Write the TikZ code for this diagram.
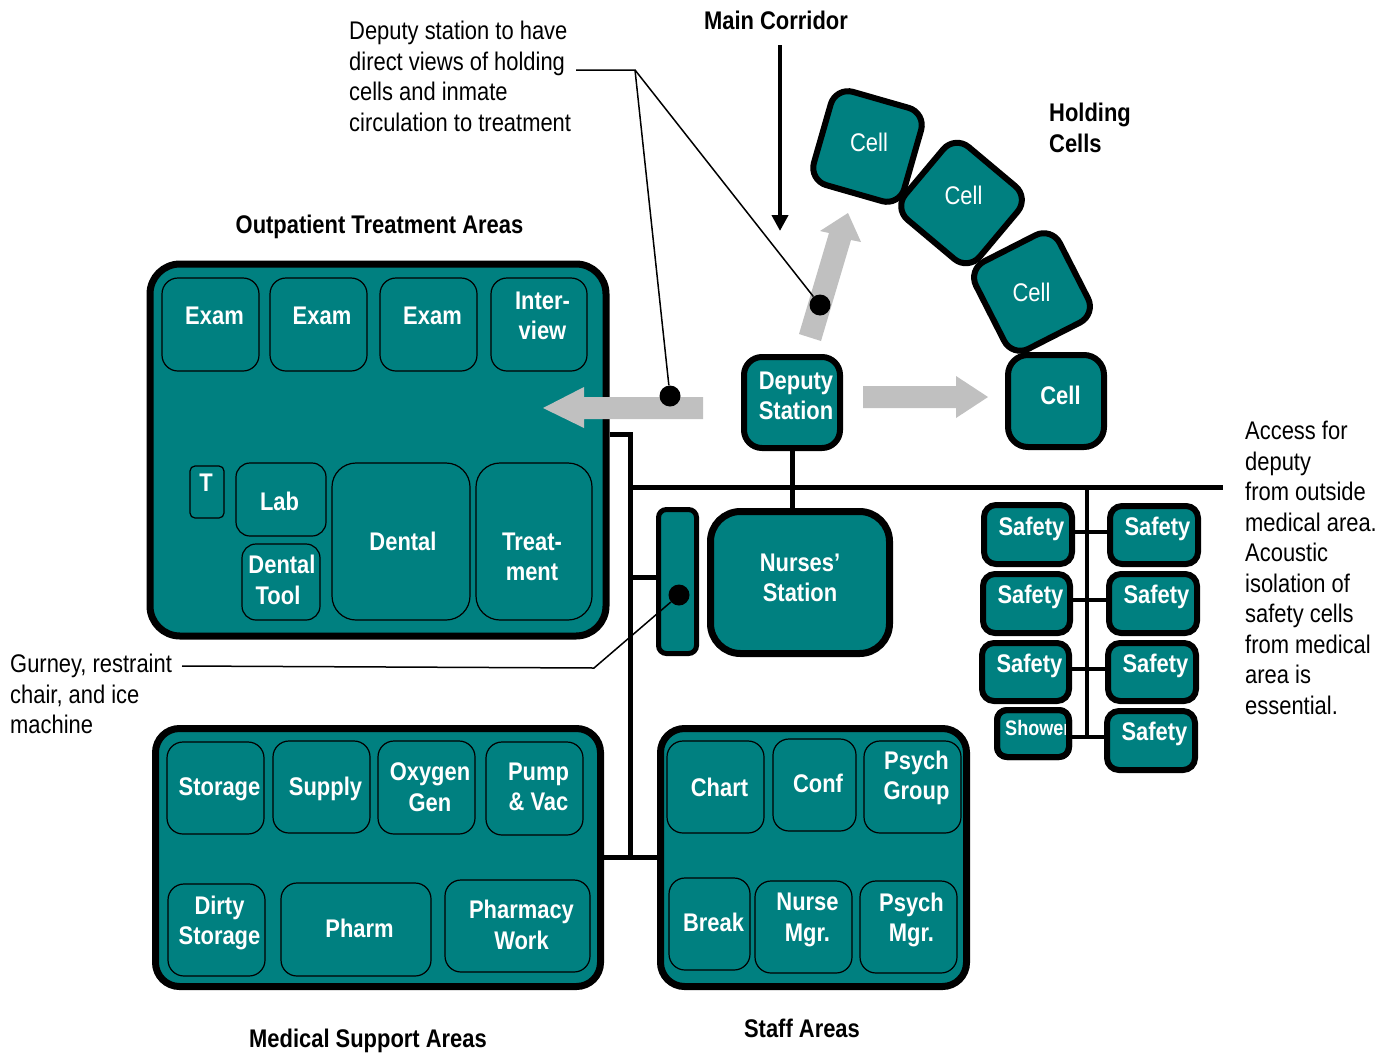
\documentclass[tikz,border=0pt]{standalone}
\usepackage{fontspec}
\setmainfont{Liberation Sans}[FakeStretch=0.86]
\usetikzlibrary{arrows.meta}
\definecolor{tealroom}{HTML}{008080}
\definecolor{grayarrow}{HTML}{C0C0C0}
\tikzset{
  sz/.style={font={\fontsize{25.5}{30.5}\selectfont}},
  szb/.style={font={\bfseries\fontsize{25.5}{30.5}\selectfont}},
  room/.style={draw=black,fill=tealroom,line width=1.2pt,inner sep=0pt},
  block/.style={draw=black,fill=tealroom,inner sep=0pt},
  roomtext/.style={szb,text=white,align=center,inner sep=0pt},
  celltext/.style={sz,text=white,align=center,inner sep=0pt},
  anno/.style={sz,text=black,align=left,inner sep=0pt},
  title/.style={szb,text=black,align=center,inner sep=0pt},
  heavy/.style={draw=black,line width=5pt},
  leader/.style={draw=black,line width=1.5pt},
  dot/.style={circle,fill=black,inner sep=0pt,minimum size=21pt},
  grayhead/.style={fill=grayarrow,draw=none},
}
% style, name, x0,y0,x1,y1, radius
\newcommand\mkbox[7]{\node[#1,rounded corners=#7pt,minimum width={(#5)-(#3)},minimum height={(#6)-(#4)}] (#2) at ({((#3)+(#5))/2},{((#4)+(#6))/2}) {};}
\begin{document}
\begin{tikzpicture}[x=1pt,y=-1pt]
\useasboundingbox (0,0) rectangle (1391,1052);
\fill[white] (0,0) rectangle (1391,1052);

% ---- large blocks
\mkbox{block,line width=7pt}{out}{150}{264}{606}{636}{30}
\mkbox{block,line width=7pt}{med}{155.5}{728.5}{600.5}{986.5}{24}
\mkbox{block,line width=7pt}{staff}{660.5}{728.5}{966.5}{986.5}{24}
\mkbox{block,line width=6pt}{deputy}{744}{357}{840}{448}{18}
\mkbox{block,line width=7pt}{nurses}{710.5}{511.5}{889.5}{653.5}{30}
\mkbox{block,line width=5pt}{gurney}{658.5}{509.5}{696.5}{653.5}{8}

% ---- rooms
\mkbox{room}{ex1}{162}{278}{259}{371}{16}
\mkbox{room}{ex2}{270}{278}{367}{371}{16}
\mkbox{room}{ex3}{380}{278}{477}{371}{16}
\mkbox{room}{inter}{491}{278}{587}{371}{16}
\mkbox{room}{troom}{190}{466}{224}{518}{5}
\mkbox{room}{lab}{236}{463}{326}{536}{14}
\mkbox{room}{tool}{242}{544}{320}{620}{14}
\mkbox{room}{dental}{332}{463}{470}{620}{24}
\mkbox{room}{treat}{476}{463}{592}{620}{24}
\mkbox{room}{stor}{167}{742}{264}{834}{16}
\mkbox{room}{supp}{273}{741}{370}{833}{16}
\mkbox{room}{oxy}{378}{741}{475}{834}{16}
\mkbox{room}{pump}{486}{742}{583}{835}{16}
\mkbox{room}{dirty}{168}{884}{265}{976}{16}
\mkbox{room}{pharm}{281}{883}{431}{976}{16}
\mkbox{room}{pwork}{445}{880}{590}{972}{16}
\mkbox{room}{chart}{667}{741}{764}{833}{16}
\mkbox{room}{conf}{773}{739}{856}{831}{16}
\mkbox{room}{pgroup}{864}{741}{961}{833}{16}
\mkbox{room}{break}{669}{878}{750}{970}{16}
\mkbox{room}{nmgr}{755}{881}{852}{973}{16}
\mkbox{room}{pmgr}{860}{881}{957}{973}{16}

% ---- cells
\tikzset{cellbox/.style={draw=black,fill=tealroom,line width=6pt,rounded corners=18pt,inner sep=0pt}}
\node[cellbox,rotate=-16,minimum width=94pt,minimum height=97pt] (c1) at (867.5,146.5) {};
\node[cellbox,rotate=-40,minimum width=97pt,minimum height=95pt] (c2) at (961.5,203) {};
\node[cellbox,rotate=27,minimum width=94pt,minimum height=98pt] (c3) at (1032,292) {};
\mkbox{block,line width=6pt}{c4}{1008}{355}{1104}{447}{20}

% ---- safety
\mkbox{block,line width=6pt}{sl1}{984}{505}{1072}{564}{12}
\mkbox{block,line width=6pt}{sr1}{1110}{506}{1198}{564}{12}
\mkbox{block,line width=6pt}{sl2}{983}{574}{1070}{633}{12}
\mkbox{block,line width=6pt}{sr2}{1109}{574}{1197}{633}{12}
\mkbox{block,line width=6pt}{sl3}{982}{643}{1069}{701}{12}
\mkbox{block,line width=6pt}{sr3}{1108}{643}{1196}{701}{12}
\mkbox{block,line width=6pt}{sr4}{1107}{711}{1195}{770}{12}
\mkbox{block,line width=6pt}{shower}{997}{710}{1069}{757}{10}

% ---- connectors
\coordinate (spinetop) at (630,434.5);
\coordinate (spinebot) at (630,857);
\coordinate (bus) at (630,487);
\coordinate (busend) at (1223,487);
\coordinate (sbot) at (1087,737);
\coordinate (stub) at (630,577);
\draw[heavy] (out.east |- spinetop) -- (spinetop) -- (spinebot);
\draw[heavy] (med.east |- spinebot) -- (staff.west |- spinebot);
\draw[heavy] (bus) -- (busend);
\draw[heavy] (stub) -- (gurney.west |- stub);
\draw[heavy] (deputy.south) -- (nurses.north -| deputy.south);
\draw[draw=black,line width=4.5pt] (sbot |- bus) -- (sbot);
\coordinate (j1) at (1087,532);
\coordinate (j2) at (1087,600);
\coordinate (j3) at (1087,669);
\draw[draw=black,line width=4.5pt] (sl1.east |- j1) -- (sr1.west |- j1);
\draw[draw=black,line width=4.5pt] (sl2.east |- j2) -- (sr2.west |- j2);
\draw[draw=black,line width=4.5pt] (sl3.east |- j3) -- (sr3.west |- j3);
\draw[draw=black,line width=4.5pt] (shower.east |- sbot) -- (sr4.west |- sbot);

% ---- grey flow arrows
\fill[grayhead] (703,397) -- (584,397) -- (584,387) -- (543,408) -- (584,428) -- (584,419) -- (703,419) -- cycle;
\fill[grayhead] (863,386) -- (956,386) -- (956,376) -- (988,397) -- (956,418) -- (956,408) -- (863,408) -- cycle;
\fill[grayhead] (799,334) -- (829,233) -- (820,231) -- (848,213) -- (861,242) -- (851,240) -- (821,341) -- cycle;

% ---- main corridor arrow
\coordinate (corrtop) at (780,45);
\coordinate (corrend) at (780,231);
\draw[draw=black,line width=4pt,-{Triangle[length=16pt,width=16pt]}] (corrtop) -- (corrend);

% ---- leaders and dots
\node[dot] (d1) at (670,396) {};
\node[dot] (d2) at (820,305) {};
\node[dot] (d3) at (679,595) {};
\coordinate (lstart) at (576,70);
\coordinate (lknee) at (635,70);
\draw[leader] (lstart) -- (lknee) -- (d1);
\draw[leader] (lknee) -- (d2);
\coordinate (gstart) at (182,666);
\coordinate (gknee) at (594,668);
\draw[leader] (gstart) -- (gknee) -- (d3);

% ---- room labels
\node[roomtext] (tex1) at (214.5,316) {Exam};
\node[roomtext] (tex2) at (322,316) {Exam};
\node[roomtext] (tex3) at (432.5,316) {Exam};
\node[roomtext] (tint) at (542.5,316) {Inter-\\view};
\node[roomtext] (tt) at (206,483) {T};
\node[roomtext] (tlab) at (279.5,501) {Lab};
\node[roomtext] (ttool) at (282,580) {Dental\\Tool\hspace*{8pt}};
\node[roomtext] (tdent) at (403,541) {Dental};
\node[roomtext] (ttreat) at (532,557) {Treat-\\ment};
\node[roomtext] (tstor) at (219.5,789) {Storage};
\node[roomtext] (tsupp) at (325.5,789) {Supply};
\node[roomtext] (toxy) at (430,787) {Oxygen\\Gen};
\node[roomtext] (tpump) at (538.5,787) {Pump\\\& Vac};
\node[roomtext] (tdirty) at (219.5,923) {Dirty\\Storage};
\node[roomtext] (tpharm) at (359.5,928) {Pharm};
\node[roomtext] (tpwork) at (521.5,925) {Pharmacy\\Work};
\node[roomtext] (tchart) at (719.5,787) {Chart};
\node[roomtext] (tconf) at (818,783) {Conf};
\node[roomtext] (tpg) at (916.5,778) {Psych\\Group};
\node[roomtext] (tbrk) at (713.5,922) {Break};
\node[roomtext] (tnm) at (807.5,920) {Nurse\\Mgr.};
\node[roomtext] (tpm) at (911.5,920) {Psych\\Mgr.};
\node[roomtext] (tdep) at (796,396) {Deputy\\Station};
\node[roomtext] (tnur) at (800,578) {Nurses’\\Station};

\node[celltext] (tc1) at (869,142) {Cell};
\node[celltext] (tc2) at (963.5,195) {Cell};
\node[celltext] (tc3) at (1031.5,292) {Cell};
\node[roomtext] (tc4) at (1060.5,395) {Cell};

\node[roomtext] (ts1) at (1031.5,529) {Safety};
\node[roomtext] (ts2) at (1157.5,529) {Safety};
\node[roomtext] (ts3) at (1030.5,597) {Safety};
\node[roomtext] (ts4) at (1156.5,597) {Safety};
\node[roomtext] (ts5) at (1029.5,666) {Safety};
\node[roomtext] (ts6) at (1155.5,666) {Safety};
\node[roomtext] (ts7) at (1154.5,734) {Safety};
\node[roomtext,anchor=west,font={\bfseries\fontsize{21}{24}\selectfont}] (tshow) at (1005,728) {Shower};
\node[draw=black,line width=6pt,rounded corners=10pt,inner sep=0pt,minimum width=72pt,minimum height=47pt] (showerframe) at (shower) {};

% ---- titles and notes
\node[title] (tmain) at (776,20) {Main Corridor};
\node[title,anchor=west,align=left] (thold) at (1049,128) {Holding\\Cells};
\node[title] (tout) at (379.5,227) {Outpatient Treatment Areas};
\node[title] (tmed) at (368,1041) {Medical Support Areas};
\node[title] (tstaff) at (802,1028) {Staff Areas};
\node[anno,anchor=west] (ndep) at (349,76.5) {Deputy station to have\\direct views of holding\\cells and inmate\\circulation to treatment};
\node[anno,anchor=west] (nacc) at (1245,568) {Access for\\deputy\\from outside\\medical area.\\Acoustic\\isolation of\\safety cells\\from medical\\area is\\essential.};
\node[anno,anchor=west] (ngur) at (10,694) {Gurney, restraint\\chair, and ice\\machine};
\end{tikzpicture}
\end{document}
